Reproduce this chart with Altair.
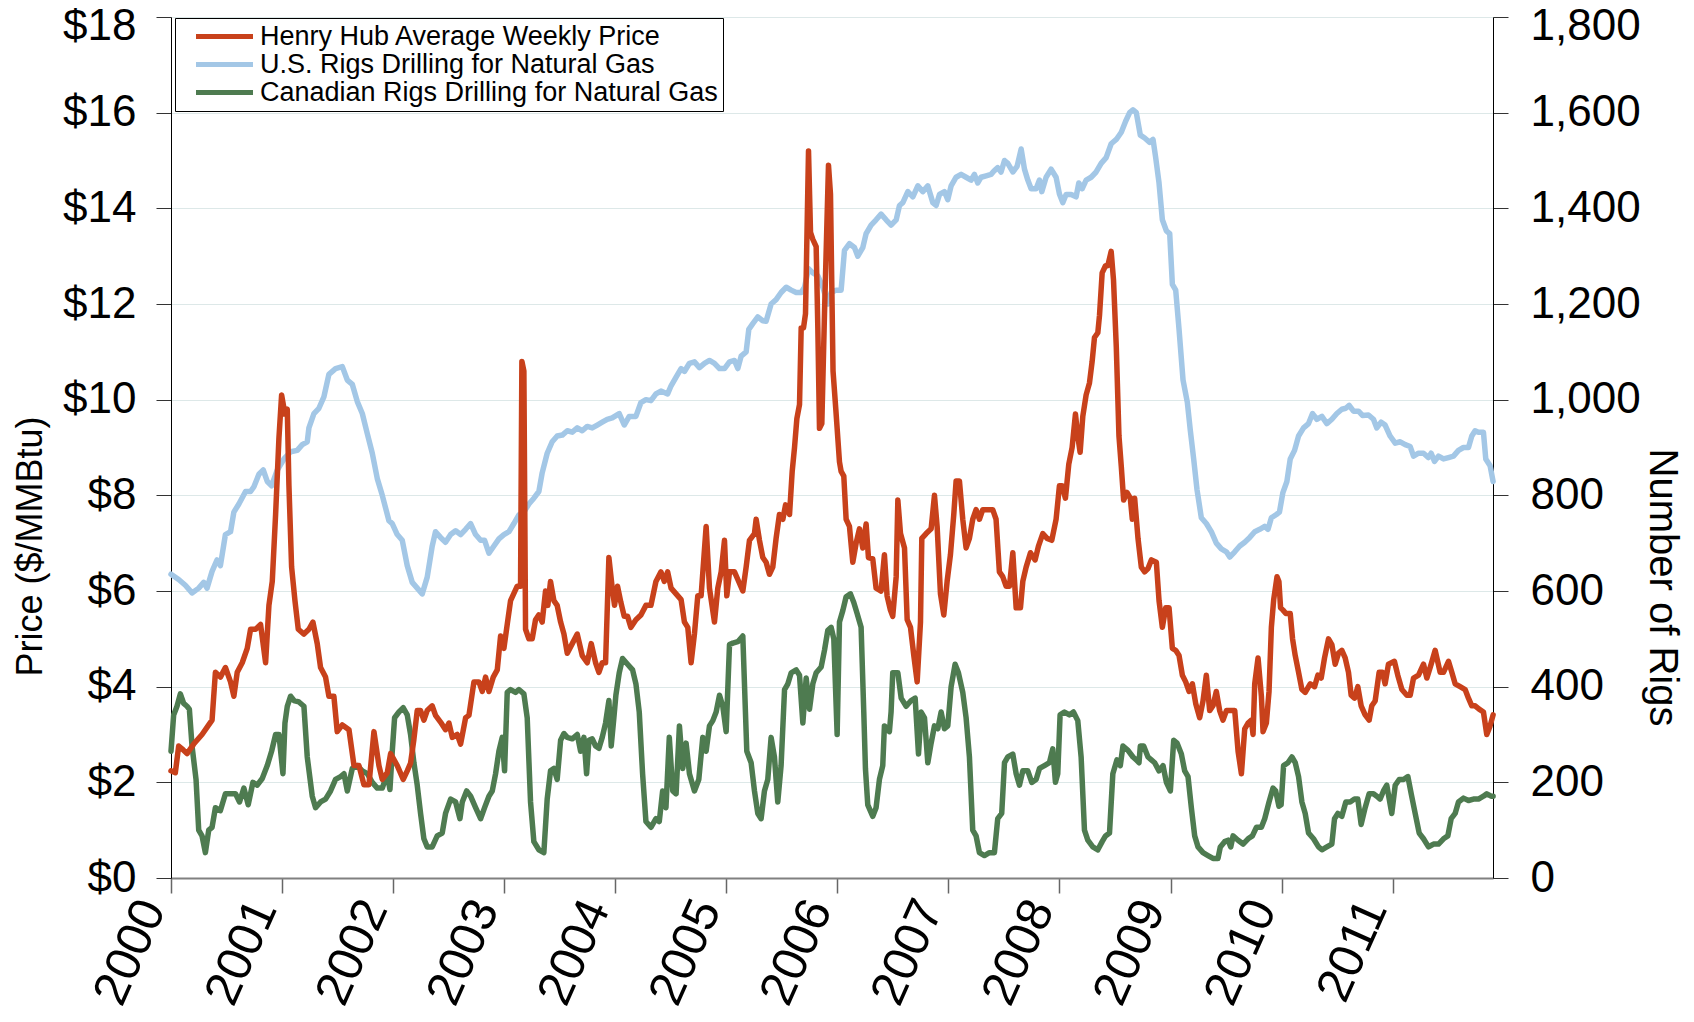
import altair as alt
import pandas as pd

SERIES = ["Henry Hub Average Weekly Price",
          "U.S. Rigs Drilling for Natural Gas",
          "Canadian Rigs Drilling for Natural Gas"]
COLORS = ["#C8411B", "#A3C7E6", "#4E7B50"]

YEAR_TICKS = list(range(2000, 2012))
PRICE_TICKS = list(range(0, 19, 2))
RIG_TICKS = list(range(0, 1801, 200))

# (decimal year, $/MMBtu)
HENRY_HUB = [
(2000.000,2.24),(2000.039,2.20),(2000.069,2.76),(2000.099,2.70),(2000.144,2.60),(2000.204,2.80),(2000.279,3.00),(2000.339,3.20),(2000.369,3.30),(2000.399,4.30),(2000.444,4.20),(2000.489,4.40),(2000.535,4.10),(2000.565,3.80),(2000.595,4.30),(2000.640,4.50),(2000.685,4.80),(2000.715,5.20),(2000.760,5.20),(2000.805,5.30),(2000.850,4.50),(2000.880,5.70),(2000.910,6.20),(2000.940,7.60),(2000.970,9.20),(2000.994,10.10),(2001.024,9.70),(2001.045,9.80),(2001.060,8.20),(2001.084,6.50),(2001.114,5.80),(2001.144,5.20),(2001.195,5.10),(2001.240,5.20),(2001.276,5.35),(2001.315,4.90),(2001.345,4.40),(2001.390,4.20),(2001.420,3.80),(2001.465,3.80),(2001.495,3.06),(2001.541,3.20),(2001.601,3.10),(2001.646,2.35),(2001.691,2.35),(2001.736,1.95),(2001.781,1.95),(2001.826,3.06),(2001.871,2.35),(2001.901,2.06),(2001.946,2.20),(2001.976,2.60),
(2002.036,2.35),(2002.090,2.06),(2002.126,2.24),(2002.156,2.40),(2002.186,2.90),(2002.216,3.50),(2002.246,3.50),(2002.276,3.30),(2002.306,3.50),(2002.351,3.60),(2002.381,3.40),(2002.426,3.26),(2002.471,3.10),(2002.502,3.24),(2002.532,2.94),(2002.577,3.00),(2002.607,2.80),(2002.652,3.35),(2002.682,3.40),(2002.727,4.10),(2002.772,4.10),(2002.802,3.90),(2002.832,4.20),(2002.862,3.90),(2002.901,4.20),(2002.937,4.35),(2002.967,5.06),(2002.997,4.80),
(2003.027,5.30),(2003.057,5.80),(2003.087,5.95),(2003.117,6.10),(2003.147,6.10),(2003.159,10.80),(2003.177,10.60),(2003.192,5.20),(2003.222,5.00),(2003.252,5.00),(2003.282,5.40),(2003.312,5.50),(2003.342,5.35),(2003.372,6.00),(2003.393,5.70),(2003.417,6.20),(2003.447,5.80),(2003.477,5.70),(2003.508,5.35),(2003.538,5.10),(2003.568,4.70),(2003.613,4.90),(2003.658,5.10),(2003.703,4.65),(2003.748,4.50),(2003.784,4.90),(2003.823,4.50),(2003.853,4.30),(2003.883,4.50),(2003.913,4.50),(2003.943,6.70),(2003.973,6.06),(2003.994,5.70),
(2004.021,6.10),(2004.051,5.76),(2004.081,5.47),(2004.111,5.47),(2004.141,5.24),(2004.186,5.40),(2004.231,5.50),(2004.276,5.70),(2004.321,5.70),(2004.366,6.20),(2004.411,6.40),(2004.441,6.20),(2004.471,6.40),(2004.502,6.06),(2004.547,5.94),(2004.592,5.82),(2004.622,5.35),(2004.652,5.24),(2004.682,4.50),(2004.712,5.10),(2004.742,5.90),(2004.772,5.90),(2004.817,7.35),(2004.847,6.06),(2004.892,5.35),(2004.922,6.06),(2004.952,6.40),(2004.982,7.06),
(2005.003,5.90),(2005.027,6.40),(2005.072,6.40),(2005.102,6.24),(2005.147,6.00),(2005.177,6.50),(2005.207,7.06),(2005.252,7.20),(2005.267,7.50),(2005.297,7.06),(2005.327,6.70),(2005.357,6.60),(2005.387,6.35),(2005.417,6.50),(2005.447,7.10),(2005.477,7.60),(2005.508,7.50),(2005.532,7.80),(2005.568,7.60),(2005.592,8.50),(2005.613,9.00),(2005.634,9.60),(2005.658,9.90),(2005.673,11.50),(2005.694,11.50),(2005.712,11.80),(2005.739,15.20),(2005.757,13.50),(2005.778,13.35),(2005.808,13.20),(2005.823,11.50),(2005.838,9.40),(2005.859,9.50),(2005.883,11.80),(2005.919,14.90),(2005.937,14.30),(2005.960,10.60),(2005.985,9.80),
(2006.018,8.70),(2006.033,8.50),(2006.057,8.40),(2006.078,7.50),(2006.108,7.35),(2006.138,6.60),(2006.168,7.00),(2006.198,7.30),(2006.228,6.90),(2006.258,7.40),(2006.279,6.70),(2006.318,6.67),(2006.348,6.06),(2006.393,6.00),(2006.423,6.76),(2006.447,5.90),(2006.477,5.60),(2006.498,5.47),(2006.529,6.30),(2006.544,7.90),(2006.568,7.20),(2006.604,6.90),(2006.628,5.40),(2006.658,5.24),(2006.688,4.65),(2006.718,4.10),(2006.748,5.35),(2006.760,7.10),(2006.799,7.20),(2006.844,7.30),(2006.874,8.00),(2006.898,7.35),(2006.928,5.94),(2006.958,5.50),(2006.988,6.20),
(2007.018,6.76),(2007.048,7.60),(2007.069,8.30),(2007.099,8.30),(2007.129,7.50),(2007.159,6.90),(2007.189,7.10),(2007.219,7.50),(2007.249,7.70),(2007.279,7.50),(2007.309,7.70),(2007.354,7.70),(2007.399,7.70),(2007.429,7.50),(2007.459,6.40),(2007.489,6.30),(2007.520,6.10),(2007.550,6.10),(2007.580,6.80),(2007.610,5.65),(2007.649,5.65),(2007.670,6.20),(2007.700,6.50),(2007.739,6.80),(2007.781,6.65),(2007.811,6.94),(2007.850,7.20),(2007.889,7.10),(2007.931,7.06),(2007.970,7.50),
(2008.000,8.20),(2008.024,8.20),(2008.054,7.94),(2008.084,8.65),(2008.114,9.00),(2008.144,9.70),(2008.165,9.24),(2008.186,8.90),(2008.210,9.65),(2008.240,10.10),(2008.270,10.35),(2008.294,10.80),(2008.315,11.30),(2008.345,11.40),(2008.360,11.76),(2008.384,12.65),(2008.414,12.80),(2008.435,12.80),(2008.465,13.10),(2008.486,12.50),(2008.511,11.10),(2008.535,9.24),(2008.556,8.60),(2008.577,7.90),(2008.607,8.06),(2008.637,7.94),(2008.655,7.50),(2008.676,7.94),(2008.706,7.10),(2008.736,6.50),(2008.766,6.40),(2008.796,6.47),(2008.826,6.65),(2008.871,6.60),(2008.895,5.80),(2008.925,5.24),(2008.955,5.65),(2008.985,5.65),
(2009.015,4.80),(2009.045,4.76),(2009.075,4.65),(2009.105,4.24),(2009.135,4.10),(2009.165,3.90),(2009.195,4.06),(2009.225,3.65),(2009.261,3.35),(2009.291,3.70),(2009.321,4.24),(2009.351,3.50),(2009.381,3.60),(2009.411,3.90),(2009.441,3.50),(2009.471,3.30),(2009.502,3.50),(2009.547,3.50),(2009.577,3.50),(2009.607,2.65),(2009.637,2.18),(2009.667,3.12),(2009.697,3.24),(2009.727,3.30),(2009.742,3.00),(2009.757,4.06),(2009.787,4.60),(2009.817,3.80),(2009.832,3.06),(2009.862,3.24),(2009.886,3.90),(2009.907,5.24),(2009.928,5.82),(2009.958,6.30),(2009.975,6.20),(2009.990,5.65),
(2010.012,5.60),(2010.038,5.53),(2010.077,5.53),(2010.098,5.00),(2010.122,4.65),(2010.152,4.30),(2010.182,3.94),(2010.212,3.88),(2010.257,4.06),(2010.296,4.00),(2010.326,4.24),(2010.356,4.18),(2010.386,4.60),(2010.422,5.00),(2010.452,4.88),(2010.482,4.47),(2010.512,4.70),(2010.542,4.76),(2010.572,4.60),(2010.602,4.30),(2010.626,3.82),(2010.656,3.76),(2010.686,4.00),(2010.716,3.60),(2010.752,3.41),(2010.788,3.30),(2010.812,3.60),(2010.842,3.70),(2010.878,4.30),(2010.908,4.30),(2010.932,4.06),(2010.962,4.47),
(2011.016,4.53),(2011.046,4.24),(2011.083,3.94),(2011.128,3.82),(2011.158,3.82),(2011.188,4.18),(2011.233,4.24),(2011.278,4.47),(2011.308,4.18),(2011.347,4.47),(2011.383,4.76),(2011.428,4.30),(2011.458,4.30),(2011.503,4.53),(2011.533,4.30),(2011.563,4.06),(2011.608,4.00),(2011.653,3.94),(2011.683,3.76),(2011.713,3.60),(2011.743,3.60),(2011.779,3.53),(2011.818,3.47),(2011.848,3.00),(2011.878,3.18),(2011.905,3.41),
]

# (decimal year, rigs)
US_RIGS = [
(2000.000,635),(2000.069,624),(2000.129,612),(2000.189,596),(2000.249,606),(2000.294,618),(2000.324,606),(2000.369,641),(2000.414,665),(2000.444,653),(2000.489,718),(2000.535,724),(2000.565,765),(2000.610,782),(2000.670,808),(2000.715,808),(2000.745,818),(2000.790,844),(2000.829,853),(2000.865,829),(2000.904,820),(2000.955,853),
(2001.015,876),(2001.075,891),(2001.135,894),(2001.180,906),(2001.225,912),(2001.240,941),(2001.285,971),(2001.330,982),(2001.375,1006),(2001.420,1053),(2001.480,1065),(2001.541,1069),(2001.586,1041),(2001.631,1032),(2001.676,996),(2001.721,971),(2001.766,929),(2001.811,888),(2001.856,835),(2001.901,800),(2001.961,747),(2001.991,741),
(2002.036,718),(2002.081,706),(2002.126,653),(2002.171,618),(2002.216,606),(2002.261,594),(2002.306,629),(2002.351,694),(2002.381,724),(2002.426,712),(2002.471,702),(2002.517,718),(2002.562,726),(2002.607,718),(2002.652,729),(2002.697,741),(2002.742,718),(2002.787,706),(2002.823,706),(2002.862,679),(2002.907,694),(2002.952,709),(2002.997,718),
(2003.042,724),(2003.087,741),(2003.132,759),(2003.177,765),(2003.222,782),(2003.267,794),(2003.312,808),(2003.342,847),(2003.387,888),(2003.432,912),(2003.477,924),(2003.523,926),(2003.568,935),(2003.613,932),(2003.658,941),(2003.703,935),(2003.748,944),(2003.793,941),(2003.838,947),(2003.883,953),(2003.928,959),(2003.973,962),
(2004.036,971),(2004.081,947),(2004.126,965),(2004.186,965),(2004.231,994),(2004.276,1000),(2004.321,998),(2004.366,1012),(2004.411,1018),(2004.471,1012),(2004.502,1029),(2004.547,1047),(2004.592,1065),(2004.622,1059),(2004.667,1076),(2004.712,1079),(2004.757,1067),(2004.802,1076),(2004.847,1082),(2004.892,1076),(2004.937,1065),(2004.982,1065),
(2005.027,1079),(2005.072,1082),(2005.102,1065),(2005.132,1091),(2005.177,1100),(2005.201,1147),(2005.237,1159),(2005.282,1173),(2005.327,1165),(2005.357,1164),(2005.402,1200),(2005.447,1209),(2005.492,1224),(2005.538,1235),(2005.583,1229),(2005.628,1224),(2005.673,1224),(2005.703,1235),(2005.739,1274),(2005.778,1265),(2005.823,1259),(2005.868,1235),(2005.913,1200),(2005.943,1224),(2005.988,1229),
(2006.033,1229),(2006.063,1312),(2006.108,1326),(2006.153,1318),(2006.183,1300),(2006.228,1318),(2006.258,1347),(2006.303,1365),(2006.348,1376),(2006.393,1388),(2006.438,1376),(2006.483,1365),(2006.529,1376),(2006.559,1406),(2006.589,1412),(2006.634,1435),(2006.679,1424),(2006.724,1447),(2006.769,1435),(2006.814,1447),(2006.859,1412),(2006.889,1406),(2006.919,1429),(2006.964,1435),(2006.994,1418),
(2007.024,1447),(2007.069,1465),(2007.114,1471),(2007.159,1465),(2007.204,1459),(2007.234,1471),(2007.264,1453),(2007.294,1465),(2007.339,1468),(2007.384,1471),(2007.414,1479),(2007.444,1485),(2007.474,1476),(2007.505,1500),(2007.535,1494),(2007.580,1476),(2007.619,1488),(2007.655,1524),(2007.685,1482),(2007.715,1459),(2007.745,1441),(2007.790,1441),(2007.820,1459),(2007.841,1435),(2007.880,1465),(2007.925,1482),(2007.970,1465),
(2008.000,1430),(2008.030,1412),(2008.060,1429),(2008.105,1429),(2008.150,1424),(2008.174,1453),(2008.204,1441),(2008.240,1459),(2008.285,1465),(2008.330,1476),(2008.375,1494),(2008.420,1506),(2008.465,1535),(2008.511,1544),(2008.556,1559),(2008.595,1582),(2008.631,1600),(2008.661,1606),(2008.691,1600),(2008.727,1553),(2008.766,1547),(2008.811,1538),(2008.841,1544),(2008.865,1506),(2008.895,1453),(2008.925,1376),(2008.961,1353),(2008.991,1347),
(2009.015,1241),(2009.045,1229),(2009.075,1147),(2009.111,1041),(2009.150,994),(2009.177,935),(2009.207,876),(2009.237,812),(2009.276,753),(2009.321,741),(2009.366,724),(2009.411,700),(2009.456,688),(2009.502,682),(2009.532,671),(2009.577,682),(2009.622,694),(2009.667,702),(2009.712,712),(2009.757,724),(2009.802,729),(2009.847,735),(2009.877,729),(2009.907,753),(2009.952,760),(2009.980,765),
(2010.010,805),(2010.047,829),(2010.077,876),(2010.116,894),(2010.152,924),(2010.197,941),(2010.242,950),(2010.278,971),(2010.317,959),(2010.362,965),(2010.407,950),(2010.452,959),(2010.497,971),(2010.542,980),(2010.578,982),(2010.608,988),(2010.647,976),(2010.692,976),(2010.728,967),(2010.782,968),(2010.827,959),(2010.857,941),(2010.896,953),(2010.932,947),(2010.977,924),
(2011.023,909),(2011.068,912),(2011.113,906),(2011.158,902),(2011.188,882),(2011.233,888),(2011.278,888),(2011.323,879),(2011.347,888),(2011.377,871),(2011.413,882),(2011.458,876),(2011.503,879),(2011.548,882),(2011.593,894),(2011.638,900),(2011.683,900),(2011.713,924),(2011.743,935),(2011.773,932),(2011.818,932),(2011.839,876),(2011.878,862),(2011.905,829),
]

# (decimal year, rigs)
CANADA_RIGS = [
(2000.000,265),(2000.024,341),(2000.054,359),(2000.084,385),(2000.114,365),(2000.144,359),(2000.165,353),(2000.189,276),(2000.225,206),(2000.249,100),(2000.279,88),(2000.309,53),(2000.339,100),(2000.369,106),(2000.399,147),(2000.444,141),(2000.489,176),(2000.535,176),(2000.580,176),(2000.616,159),(2000.655,188),(2000.694,153),(2000.736,200),(2000.775,194),(2000.820,208),(2000.865,235),(2000.904,265),(2000.940,300),(2000.970,300),
(2001.006,218),(2001.024,324),(2001.045,359),(2001.075,380),(2001.105,371),(2001.150,368),(2001.195,359),(2001.225,253),(2001.270,171),(2001.300,147),(2001.345,159),(2001.390,165),(2001.435,182),(2001.480,206),(2001.526,212),(2001.556,218),(2001.586,182),(2001.631,229),(2001.676,235),(2001.721,224),(2001.766,218),(2001.811,200),(2001.856,188),(2001.901,188),(2001.946,218),(2001.970,185),(2001.991,265),
(2002.012,335),(2002.051,347),(2002.090,356),(2002.126,341),(2002.156,300),(2002.186,241),(2002.216,194),(2002.246,135),(2002.276,82),(2002.306,65),(2002.351,65),(2002.396,88),(2002.441,94),(2002.471,135),(2002.517,165),(2002.562,159),(2002.601,124),(2002.622,159),(2002.661,182),(2002.697,171),(2002.742,147),(2002.787,124),(2002.823,147),(2002.862,171),(2002.892,182),(2002.922,218),(2002.952,265),(2002.982,294),
(2003.003,224),(2003.027,388),(2003.057,394),(2003.102,388),(2003.132,394),(2003.177,385),(2003.207,335),(2003.237,159),(2003.267,76),(2003.312,59),(2003.357,53),(2003.387,165),(2003.417,224),(2003.447,229),(2003.477,206),(2003.508,288),(2003.538,302),(2003.568,294),(2003.613,291),(2003.658,300),(2003.688,265),(2003.718,294),(2003.742,218),(2003.763,288),(2003.793,291),(2003.823,276),(2003.853,271),(2003.883,294),(2003.913,324),(2003.943,371),(2003.964,276),(2003.988,335),
(2004.006,382),(2004.036,429),(2004.066,459),(2004.111,447),(2004.156,435),(2004.186,406),(2004.216,347),(2004.246,218),(2004.276,118),(2004.321,106),(2004.366,124),(2004.396,118),(2004.426,182),(2004.456,147),(2004.486,294),(2004.517,182),(2004.547,176),(2004.577,318),(2004.607,229),(2004.637,282),(2004.667,218),(2004.712,182),(2004.751,206),(2004.787,294),(2004.817,265),(2004.847,318),(2004.877,329),(2004.907,347),(2004.937,382),(2004.967,359),(2004.997,306),
(2005.027,488),(2005.057,491),(2005.102,494),(2005.147,506),(2005.183,265),(2005.222,241),(2005.252,182),(2005.282,135),(2005.312,124),(2005.342,182),(2005.372,206),(2005.402,294),(2005.432,253),(2005.462,159),(2005.492,235),(2005.523,394),(2005.553,406),(2005.583,429),(2005.628,435),(2005.658,424),(2005.688,324),(2005.718,418),(2005.748,353),(2005.778,406),(2005.808,429),(2005.853,441),(2005.883,476),(2005.913,518),(2005.943,524),(2005.967,500),(2005.997,300),
(2006.018,535),(2006.048,559),(2006.078,588),(2006.117,594),(2006.147,576),(2006.177,553),(2006.213,524),(2006.237,347),(2006.252,229),(2006.273,153),(2006.318,129),(2006.348,147),(2006.378,206),(2006.408,235),(2006.423,318),(2006.468,306),(2006.483,347),(2006.498,429),(2006.544,429),(2006.574,376),(2006.619,359),(2006.664,371),(2006.700,376),(2006.730,259),(2006.754,347),(2006.784,335),(2006.814,241),(2006.844,282),(2006.874,318),(2006.904,312),(2006.934,347),(2006.964,312),(2006.994,318),
(2007.024,400),(2007.060,447),(2007.090,429),(2007.129,388),(2007.159,335),(2007.189,253),(2007.219,100),(2007.249,88),(2007.279,53),(2007.324,47),(2007.369,53),(2007.414,53),(2007.444,124),(2007.480,135),(2007.505,241),(2007.535,253),(2007.580,259),(2007.610,218),(2007.640,194),(2007.670,224),(2007.715,224),(2007.751,200),(2007.790,206),(2007.820,229),(2007.865,235),(2007.910,241),(2007.940,270),(2007.964,200),(2007.985,218),
(2008.006,341),(2008.045,347),(2008.090,341),(2008.126,347),(2008.165,329),(2008.195,253),(2008.225,100),(2008.255,79),(2008.300,65),(2008.345,59),(2008.384,76),(2008.414,88),(2008.450,94),(2008.480,218),(2008.517,247),(2008.547,235),(2008.571,276),(2008.616,267),(2008.661,253),(2008.691,247),(2008.715,241),(2008.727,276),(2008.757,276),(2008.796,253),(2008.826,247),(2008.856,241),(2008.895,224),(2008.931,235),(2008.961,200),(2008.997,182),
(2009.027,288),(2009.057,282),(2009.096,259),(2009.126,224),(2009.156,212),(2009.186,147),(2009.216,88),(2009.246,65),(2009.291,53),(2009.336,47),(2009.381,41),(2009.426,41),(2009.447,65),(2009.486,76),(2009.517,79),(2009.541,65),(2009.562,88),(2009.607,79),(2009.652,71),(2009.697,82),(2009.736,88),(2009.772,106),(2009.817,106),(2009.847,124),(2009.886,159),(2009.922,188),(2009.946,182),(2009.975,150),(2009.995,153),
(2010.017,235),(2010.056,241),(2010.092,253),(2010.122,241),(2010.152,212),(2010.182,159),(2010.212,135),(2010.242,94),(2010.287,82),(2010.332,65),(2010.362,59),(2010.407,65),(2010.452,71),(2010.476,124),(2010.506,135),(2010.542,129),(2010.578,159),(2010.617,159),(2010.656,165),(2010.686,165),(2010.716,112),(2010.752,147),(2010.788,176),(2010.827,176),(2010.857,171),(2010.887,165),(2010.917,182),(2010.947,194),(2010.992,135),
(2011.023,194),(2011.059,206),(2011.098,206),(2011.137,212),(2011.167,176),(2011.203,135),(2011.239,94),(2011.278,82),(2011.323,65),(2011.368,71),(2011.413,71),(2011.458,82),(2011.497,88),(2011.527,124),(2011.563,135),(2011.593,159),(2011.638,167),(2011.683,162),(2011.728,165),(2011.773,165),(2011.818,171),(2011.848,176),(2011.887,171),(2011.905,171),
]

X_END = 2011.905


def to_iso(t):
    y = int(t)
    start = pd.Timestamp(year=y, month=1, day=1)
    ndays = 366 if (y % 4 == 0) else 365
    return (start + pd.Timedelta(days=(t - y) * ndays)).strftime("%Y-%m-%dT%H:%M:%S")


rows = []
for name, pts in zip(SERIES, [HENRY_HUB, US_RIGS, CANADA_RIGS]):
    for i, (t, v) in enumerate(pts):
        rows.append({"date": to_iso(t), "value": v, "series": name, "idx": i})
df = pd.DataFrame(rows)

FONT = "Liberation Sans"
end_ts = pd.Timestamp(to_iso(X_END))

x_enc = alt.X(
    "date:T",
    scale=alt.Scale(domain=[alt.DateTime(year=2000, month=1, date=1),
                            alt.DateTime(year=end_ts.year, month=end_ts.month, date=end_ts.day)],
                    nice=False),
    axis=alt.Axis(values=[alt.DateTime(year=y, month=1, date=1) for y in YEAR_TICKS],
                  format="%Y", labelAngle=-66, labelAlign="right", labelBaseline="middle",
                  labelFontSize=49, labelFont=FONT, labelColor="#000", labelPadding=9,
                  labelOffset=-19,
                  tickSize=15, tickColor="#666", tickWidth=1.5,
                  domainColor="#808080", domainWidth=2, grid=False, title=None,
                  labelOverlap=False, labelFlush=False),
)

color_enc = alt.Color(
    "series:N",
    scale=alt.Scale(domain=SERIES, range=COLORS),
    legend=alt.Legend(title=None, orient="none", legendX=4, legendY=1, direction="vertical",
                      symbolType="M-3,0H3", symbolSize=361, symbolStrokeWidth=5,
                      symbolOffset=31, labelOffset=22,
                      labelFont=FONT, labelFontSize=27, labelColor="#000", labelLimit=600,
                      padding=5, rowPadding=0, strokeColor="#000", fillColor="#FFFFFF"),
)

rigs = alt.Chart(df).transform_filter(
    alt.datum.series != SERIES[0]
).mark_line(strokeWidth=5.5, strokeJoin="round", strokeCap="round").encode(
    x=x_enc,
    y=alt.Y("value:Q",
            scale=alt.Scale(domain=[0, 1800], nice=False),
            axis=alt.Axis(orient="right", values=RIG_TICKS, format=",d",
                          labelFont=FONT, labelFontSize=44, labelColor="#000", labelPadding=22,
                          labelOffset={"condition": {"test": "datum.value == 1800", "value": 9}, "value": 0},
                          tickSize=15, tickColor="#333", domainColor="#000", domainWidth=1,
                          grid=False, title="Number of Rigs", titleFont=FONT, titleFontSize=40,
                          titleFontWeight="normal", titleColor="#000", titleAngle=90,
                          titleX=168, titleY=570, titleAlign="center", titleBaseline="middle")),
    color=color_enc,
    order="idx:Q",
)

price = alt.Chart(df).transform_filter(
    alt.datum.series == SERIES[0]
).mark_line(strokeWidth=5.5, strokeJoin="round", strokeCap="round").encode(
    x=x_enc,
    y=alt.Y("value:Q",
            scale=alt.Scale(domain=[0, 18], nice=False),
            axis=alt.Axis(orient="left", values=PRICE_TICKS, labelExpr="'$' + datum.value",
                          labelFont=FONT, labelFontSize=44, labelColor="#000", labelPadding=20,
                          labelOffset={"condition": {"test": "datum.value == 18", "value": 9}, "value": 0},
                          tickSize=15, tickColor="#333", domainColor="#000", domainWidth=1,
                          grid=True, gridColor="#DDE8E8", gridWidth=1,
                          title="Price ($/MMBtu)", titleFont=FONT, titleFontSize=36,
                          titleFontWeight="normal", titleColor="#000", titleAngle=-90,
                          titleX=-141, titleY=529, titleAlign="center", titleBaseline="middle")),
    color=color_enc,
    order="idx:Q",
)

chart = alt.layer(rigs, price).resolve_scale(y="independent").properties(
    width=1322, height=861,
    autosize=alt.AutoSizeParams(type="none"),
    padding={"left": 163, "top": 9, "right": 193, "bottom": 136},
).configure_view(stroke=None).configure(background="white")

chart.save("out.html", embed_options={"renderer": "svg", "actions": False})
